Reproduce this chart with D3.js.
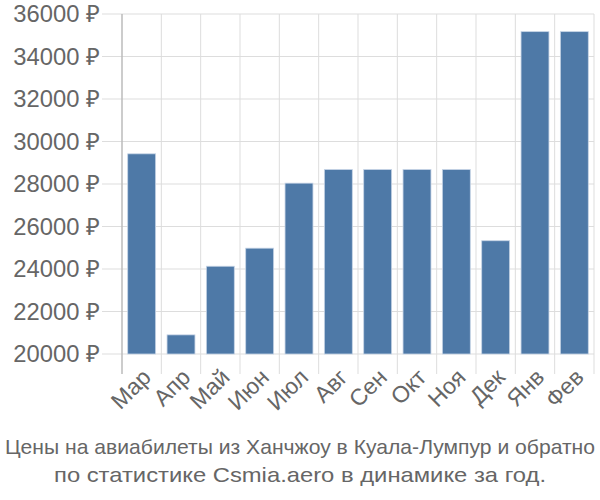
<!DOCTYPE html>
<html><head><meta charset="utf-8">
<script src="https://cdn.jsdelivr.net/npm/d3@7"></script>
<style>body{margin:0;background:#fff}text{font-family:"Liberation Sans",Arial,sans-serif}</style>
</head><body><svg id="c" width="600" height="500"></svg>
<script>
const categories = ["Мар","Апр","Май","Июн","Июл","Авг","Сен","Окт","Ноя","Дек","Янв","Фев"];
const values = [29420, 20900, 24130, 24980, 28040, 28680, 28680, 28680, 28680, 25330, 35170, 35170];
const yTicks = [20000,22000,24000,26000,28000,30000,32000,34000,36000];
const titleLines = ["Цены на авиабилеты из Ханчжоу в Куала-Лумпур и обратно","по статистике Csmia.aero в динамике за год."];

const svg = d3.select("#c");
const m = {l:122, r:594, t:14, b:354};
const x = d3.scaleBand().domain(categories).range([m.l, m.r]).paddingInner(0.29).paddingOuter(0.145);
const y = d3.scaleLinear().domain([20000,36000]).range([m.b, m.t]);
const grid = "#dddddd", txt = "#666666";

svg.append("g").selectAll("line").data(yTicks).join("line")
  .attr("x1", m.l-20).attr("x2", m.r).attr("y1", d=>y(d)).attr("y2", d=>y(d))
  .attr("stroke", grid).attr("stroke-width", 1);
const step = x.step();
const bounds = d3.range(categories.length+1).map(i => m.l + i*step);
svg.append("g").selectAll("line").data(bounds).join("line")
  .attr("x1", d=>d).attr("x2", d=>d).attr("y1", m.t).attr("y2", m.b+20)
  .attr("stroke", grid).attr("stroke-width", 1);
svg.append("line").attr("x1", m.l).attr("x2", m.l).attr("y1", m.t).attr("y2", m.b+20)
  .attr("stroke", "#aaaaaa").attr("stroke-width", 1);

svg.append("g").selectAll("rect").data(values).join("rect")
  .attr("x", (d,i)=>x(categories[i])).attr("width", x.bandwidth())
  .attr("y", d=>y(d)).attr("height", d=>y(20000)-y(d))
  .attr("fill", "#4e79a7").attr("stroke", "#c6d4e6").attr("stroke-width", 0.8);

const yl = svg.append("g").selectAll("text").data(yTicks).join("text")
  .attr("x", 100).attr("y", d=>y(d)).attr("dy", "0.35em").attr("text-anchor", "end")
  .attr("font-size", 20).attr("fill", txt).text(d=>d+" ₽");
const w0 = yl.node().getComputedTextLength();
yl.attr("font-size", 20*87/w0);

svg.append("g").selectAll("text").data(categories).join("text")
  .attr("transform", d=>`translate(${x(d)+x.bandwidth()/2+5},${m.b+19}) rotate(-45)`)
  .attr("text-anchor", "end").attr("dy", "0.35em")
  .attr("font-size", 23).attr("fill", txt).text(d=>d);

const titleW = [590, 492];
svg.append("g").selectAll("text").data(titleLines).join("text")
  .attr("x", 300).attr("y", (d,i)=>454+i*28).attr("text-anchor", "middle")
  .attr("font-size", 21).attr("fill", txt)
  .attr("textLength", (d,i)=>titleW[i]).attr("lengthAdjust", "spacingAndGlyphs")
  .text(d=>d);
</script></body></html>
